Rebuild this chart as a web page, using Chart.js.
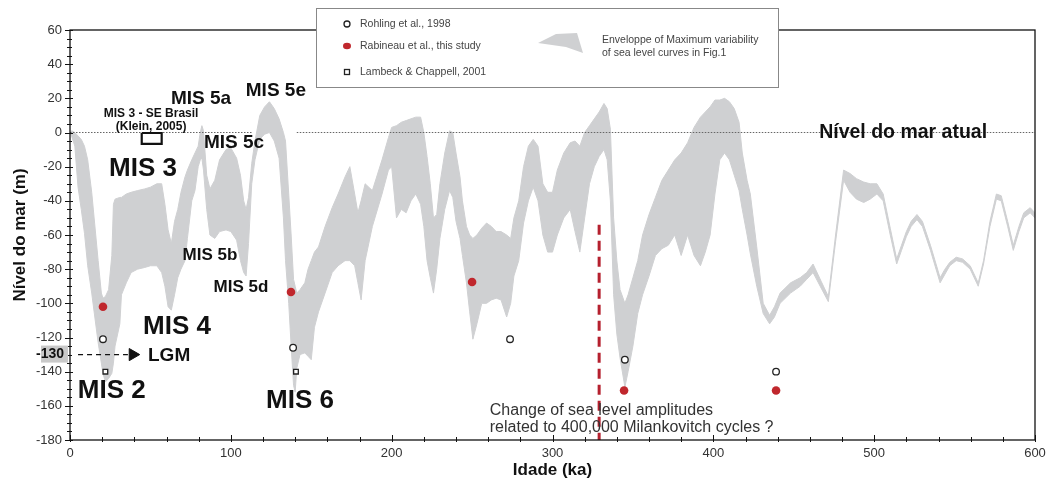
<!DOCTYPE html>
<html>
<head>
<meta charset="utf-8">
<script src="https://cdn.jsdelivr.net/npm/chart.js@4.4.1/dist/chart.umd.min.js"></script>
<style>
  html, body { margin: 0; padding: 0; background: #fff; }
  #wrap { width: 1058px; height: 484px; position: relative; }
</style>
</head>
<body>
<div id="wrap"><canvas id="nivelChart"></canvas></div>
<script>
// Envelope de variabilidade do nível do mar (idade em ka, nível em m)
const ages = [0, 1, 3, 5, 7, 9, 11, 13.5, 15, 17.5, 19.5, 20.5, 22, 24, 26, 27, 28, 31, 32, 35, 38, 42, 46.5, 50, 54, 57, 59, 61, 63, 65, 67, 69, 71.5, 73, 75.7, 77.7, 79.7, 81, 82, 83, 85, 87, 90, 93, 97, 100, 103.6, 106, 108, 109.5, 111, 113, 115, 118, 121, 124, 127, 130, 132.7, 134, 136, 137.5, 139, 140, 141, 143, 146, 148, 150, 152, 154.5, 158.6, 163, 166.7, 171, 174, 177, 179, 181, 183.5, 188, 194, 198, 200, 203, 206, 209, 212, 215, 218, 220, 222, 224, 226, 228, 230, 233, 236, 238, 240, 242.5, 244, 246.5, 248.5, 250.5, 253, 256, 259, 262, 265, 268, 271.5, 274, 276, 279, 282, 285, 288, 291, 294, 297, 300, 303, 307, 311, 314, 317, 320, 323, 326, 329, 332, 334, 336, 338, 340, 342, 345, 347, 350, 353, 356, 360, 364, 368, 372, 376, 380, 384, 388, 392, 395, 398, 401, 404, 407, 410, 413, 416, 418, 421, 423, 427, 431, 435, 438, 441.5, 448, 454, 458, 462, 467, 471.5, 476, 481, 485, 489, 493.5, 497.5, 501.7, 505.6, 510, 514, 517, 520, 523, 526.6, 530, 535, 541, 544, 547, 551, 555, 559.7, 564.7, 568, 572, 576, 579, 583, 586.5, 590, 593, 597, 600];
const upperLevel = [0, 1, 0, -2, -4, -8, -16, -35, -50, -75, -94, -97, -96, -92, -72, -42, -39, -38, -38, -36, -35, -34, -33, -32, -30, -30, -42, -57, -65, -52, -45, -35, -26, -22, -16, -12, -8, 0, 4, 1, -25, -33, -28, -16, -10, -9, -15, -25, -40, -45, -38, -18, -5, 10, 15, 18, 14, 8, 0, -5, -36, -60, -86, -90, -94, -92, -88, -80, -75, -70, -67, -55, -44, -36, -26, -20, -36, -47, -40, -30, -34, -16, -3, 3, 4, 6, 7, 8, 9, 9, 0, -14, -30, -50, -48, -30, -12, 1, 0, -12, -26, -40, -55, -60, -62, -60, -56, -53, -55, -58, -58, -60, -62, -50, -40, -20, -8, -4, -8, -30, -35, -35, -22, -12, -6, -5, -8, 0, 4, 8, 12, 17, 14, 2, -50, -75, -92, -100, -95, -85, -75, -60, -48, -38, -28, -22, -16, -12, -6, 3, 9, 12, 15, 19, 19, 20, 18, 14, 6, -12, -28, -36, -67, -100, -107, -102, -94, -88, -85, -82, -77, -87, -96, -60, -22, -24, -27, -29, -30, -30, -36, -56, -74, -66, -58, -52, -48, -52, -66, -85, -80, -76, -73, -74, -78, -88, -75, -52, -36, -37, -52, -66, -55, -47, -44, -47];
const lowerLevel = [0, -2, -8, -32, -45, -59, -78, -94, -105, -123, -135, -141, -146, -144, -141, -135, -125, -112, -95, -88, -82, -80, -79, -78, -78, -82, -90, -102, -104, -95, -85, -80, -75, -62, -40, -34, -20, -16, -15, -22, -45, -60, -62, -58, -57, -58, -63, -75, -82, -84, -65, -30, -16, -4, -1, 0, -5, -15, -50, -75, -100, -125, -148, -152, -138, -130, -129, -131, -133, -114, -105, -94, -82, -78, -75, -75, -78, -88, -98, -75, -55, -36, -22, -20, -50, -45, -47, -40, -36, -42, -55, -75, -85, -94, -80, -62, -45, -34, -38, -52, -62, -72, -88, -105, -121, -112, -100, -100, -98, -97, -98, -108, -100, -84, -75, -53, -40, -32, -40, -60, -70, -70, -60, -50, -45, -58, -70, -50, -30, -20, -14, -10, -16, -40, -95, -118, -132, -149, -140, -125, -106, -95, -84, -72, -68, -66, -60, -72, -60, -72, -78, -70, -60, -36, -16, -12, -16, -25, -34, -45, -60, -71, -90, -106, -112, -108, -100, -94, -90, -86, -82, -91, -99, -64, -28, -35, -39, -41, -39, -36, -40, -60, -77, -69, -61, -55, -51, -55, -69, -88, -83, -78, -75, -76, -80, -90, -77, -55, -39, -40, -55, -69, -58, -50, -47, -50];

// Pontos de referência
const rohlingAges = [20.5, 138.7, 273.6, 345, 439];
const rohlingLevels = [-121, -126, -121, -133, -140];
const rabineauAges = [20.5, 137.4, 250, 344.5, 439];
const rabineauLevels = [-102, -93.4, -87.5, -151, -151];
const lambeckAges = [22, 140.5];
const lambeckLevels = [-140, -140];

// Caixa MIS 3 (Klein, 2005)
const kleinAges = [44.6, 57, 57, 44.6, 44.6];
const kleinLevels = [-0.3, -0.3, -6.7, -6.7, -0.3];

// Linha de 400 ka (Milankovitch) e seta LGM
const milankAge = 329;
const milankLevels = [-54, -180];
const lgmLevel = -130;
const lgmArrowAges = [5, 36];
const lgmHeadAge = 39;

// Nível atual (com interrupção sob o pico MIS 5e)
const zeroAges = [0, 113, null, 141, 600];

const yTicks = [-180, -160, -140, -120, -100, -80, -60, -40, -20, 0, 20, 40, 60];
const xTicks = [0, 100, 200, 300, 400, 500, 600];

const toPts = (xs, ys) => xs.map((a, i) => ({ x: a, y: ys[i] }));

const FONT = '"Liberation Sans", Arial, Helvetica, sans-serif';
Chart.defaults.font.family = FONT;

const notes = [
  { t: "MIS 5a", x: 81.5, y: 20, f: "bold 19px" },
  { t: "MIS 5e", x: 128, y: 24.5, f: "bold 19px" },
  { t: "MIS 3 - SE Brasil", x: 50.4, y: 10.8, f: "bold 12px" },
  { t: "(Klein, 2005)", x: 50.4, y: 3.2, f: "bold 12px" },
  { t: "MIS 5c", x: 102, y: -6, f: "bold 19px" },
  { t: "MIS 3", x: 45.4, y: -21.4, f: "bold 26px" },
  { t: "MIS 5b", x: 87, y: -71.7, f: "bold 17px" },
  { t: "MIS 5d", x: 106.3, y: -90.5, f: "bold 17px" },
  { t: "MIS 4", x: 66.5, y: -114, f: "bold 26px" },
  { t: "MIS 2", x: 26, y: -151, f: "bold 26px" },
  { t: "MIS 6", x: 143, y: -157, f: "bold 26px" },
  { t: "Nível do mar atual", x: 518, y: 0, f: "bold 19.5px" },
];

const extras = {
  id: "extras",
  afterDraw(chart) {
    const { ctx, chartArea: a, scales } = chart;
    const x = scales.x, y = scales.y;
    ctx.save();

    // moldura
    ctx.strokeStyle = "#111";
    ctx.lineWidth = 1.3;
    ctx.strokeRect(a.left, a.top, a.right - a.left, a.bottom - a.top);

    // marcas do eixo Y
    ctx.lineWidth = 1;
    for (let v = -180; v <= 60; v += 5) {
      const py = Math.round(y.getPixelForValue(v)) + 0.5;
      const major = v % 20 === 0;
      ctx.beginPath();
      ctx.moveTo(a.left - (major ? 5 : 3), py);
      ctx.lineTo(a.left + (major ? 3 : 2), py);
      ctx.stroke();
    }
    // marcas do eixo X
    for (let v = 0; v <= 600; v += 20) {
      const px = Math.round(x.getPixelForValue(v)) + 0.5;
      const major = v % 100 === 0;
      ctx.beginPath();
      ctx.moveTo(px, a.bottom + 2);
      ctx.lineTo(px, a.bottom - (major ? 5 : 3));
      ctx.stroke();
    }

    // destaque -130
    const p130 = y.getPixelForValue(lgmLevel);
    ctx.fillStyle = "#c9c9c9";
    ctx.fillRect(41, p130 - 9, 27, 17);
    ctx.fillStyle = "#111";
    ctx.font = "bold 14px " + FONT;
    ctx.textAlign = "right";
    ctx.textBaseline = "middle";
    ctx.fillText("-130", 64, p130);

    // rótulos MIS
    ctx.textAlign = "center";
    notes.forEach((n) => {
      ctx.font = n.f + " " + FONT;
      ctx.fillText(n.t, x.getPixelForValue(n.x), y.getPixelForValue(n.y));
    });
    ctx.font = "bold 19px " + FONT;
    ctx.textAlign = "left";
    ctx.fillText("LGM", x.getPixelForValue(48.5), p130 + 1);

    // texto Milankovitch
    ctx.font = "16px " + FONT;
    ctx.fillStyle = "#333";
    ctx.fillText("Change of sea level amplitudes", x.getPixelForValue(261), y.getPixelForValue(-163));
    ctx.fillText("related to 400,000 Milankovitch cycles ?", x.getPixelForValue(261), y.getPixelForValue(-172.5));

    // legenda
    ctx.fillStyle = "#fff";
    ctx.fillRect(316, 8, 462, 79);
    ctx.strokeStyle = "#888";
    ctx.lineWidth = 1;
    ctx.strokeRect(316.5, 8.5, 462, 79);
    const ds = chart.data.datasets;
    ctx.font = "10.5px " + FONT;
    ctx.fillStyle = "#444";
    ctx.textAlign = "left";
    [[2, 24], [3, 46], [4, 72]].forEach(([i, py]) => {
      ctx.fillText(ds[i].label, 360, py);
    });
    ctx.lineWidth = 1.3;
    ctx.strokeStyle = "#222";
    ctx.beginPath();
    ctx.arc(347, 24, 3, 0, Math.PI * 2);
    ctx.stroke();
    ctx.fillStyle = ds[3].backgroundColor;
    ctx.beginPath();
    ctx.ellipse(347, 46, 4, 3.3, 0, 0, Math.PI * 2);
    ctx.fill();
    ctx.strokeRect(344.5, 69.5, 5, 5);
    ctx.fillStyle = ds[1].backgroundColor;
    ctx.beginPath();
    ctx.moveTo(538, 43);
    ctx.lineTo(556, 34);
    ctx.lineTo(577, 33);
    ctx.lineTo(583, 53);
    ctx.lineTo(566, 47);
    ctx.closePath();
    ctx.fill();
    ctx.fillStyle = "#444";
    ctx.fillText("Enveloppe of Maximum variability", 602, 40);
    ctx.fillText("of sea level curves in Fig.1", 602, 53);

    ctx.restore();
  },
};

const ctx = document.getElementById("nivelChart").getContext("2d");
const nivelChart = new Chart(ctx, {
  type: "scatter",
  data: {
    datasets: [
      {
        label: "upper",
        data: toPts(ages, upperLevel),
        showLine: true,
        borderColor: "#cfd0d2",
        borderWidth: 1,
        pointRadius: 0,
        backgroundColor: "#cfd0d2",
        order: 10,
      },
      {
        label: "Enveloppe of Maximum variability",
        data: toPts(ages, lowerLevel),
        showLine: true,
        borderColor: "#cfd0d2",
        borderWidth: 1,
        pointRadius: 0,
        backgroundColor: "#cfd0d2",
        fill: "-1",
        order: 9,
      },
      {
        label: "Rohling et al., 1998",
        data: toPts(rohlingAges, rohlingLevels),
        pointStyle: "circle",
        pointRadius: 3.3,
        backgroundColor: "#fff",
        borderColor: "#222",
        borderWidth: 1.3,
        order: 1,
      },
      {
        label: "Rabineau et al., this study",
        data: toPts(rabineauAges, rabineauLevels),
        pointStyle: "circle",
        pointRadius: 4.3,
        backgroundColor: "#c0272d",
        borderWidth: 0,
        order: 1,
      },
      {
        label: "Lambeck & Chappell, 2001",
        data: toPts(lambeckAges, lambeckLevels),
        pointStyle: "rect",
        pointRadius: 3.3,
        backgroundColor: "#fff",
        borderColor: "#222",
        borderWidth: 1.3,
        order: 1,
      },
      {
        label: "nível atual",
        data: zeroAges.map((a) => (a === null ? { x: null, y: null } : { x: a, y: 0 })),
        showLine: true,
        spanGaps: false,
        borderColor: "#666",
        borderWidth: 1.2,
        borderDash: [1.5, 1.5],
        pointRadius: 0,
        order: 5,
      },
      {
        label: "Klein 2005",
        data: toPts(kleinAges, kleinLevels),
        showLine: true,
        borderColor: "#111",
        borderWidth: 2.2,
        pointRadius: 0,
        order: 2,
      },
      {
        label: "400 ka",
        data: milankLevels.map((v) => ({ x: milankAge, y: v })),
        showLine: true,
        borderColor: "#b5202e",
        borderWidth: 3,
        borderDash: [10, 6],
        pointRadius: 0,
        order: 2,
      },
      {
        label: "LGM",
        data: lgmArrowAges.map((a) => ({ x: a, y: lgmLevel })),
        showLine: true,
        borderColor: "#111",
        borderWidth: 1.4,
        borderDash: [5, 4],
        pointRadius: 0,
        order: 2,
      },
      {
        label: "LGM seta",
        data: [{ x: lgmHeadAge, y: lgmLevel }],
        pointStyle: "triangle",
        rotation: 90,
        pointRadius: 7,
        backgroundColor: "#111",
        borderColor: "#111",
        order: 2,
      },
    ],
  },
  options: {
    responsive: true,
    maintainAspectRatio: false,
    animation: false,
    layout: { padding: { top: 30, right: 23, left: 0, bottom: 0 } },
    plugins: {
      legend: { display: false },
      tooltip: { enabled: false },
    },
    scales: {
      x: {
        type: "linear",
        min: 0,
        max: 600,
        afterFit: (s) => { s.height = 44; },
        afterBuildTicks: (s) => { s.ticks = xTicks.map((v) => ({ value: v })); },
        grid: { display: false, drawTicks: false },
        border: { display: false },
        ticks: { color: "#333", font: { size: 13 }, padding: 6 },
        title: {
          display: true,
          text: "Idade (ka)",
          color: "#111",
          font: { size: 17, weight: "bold" },
          padding: { top: 0, bottom: 3 },
        },
      },
      y: {
        type: "linear",
        min: -180,
        max: 60,
        afterFit: (s) => { s.width = 70; },
        afterBuildTicks: (s) => { s.ticks = yTicks.map((v) => ({ value: v })); },
        grid: { display: false, drawTicks: false },
        border: { display: false },
        ticks: { color: "#333", font: { size: 13 }, padding: 8 },
        title: {
          display: true,
          text: "Nível do mar (m)",
          color: "#111",
          font: { size: 17, weight: "bold" },
          padding: { top: 10, bottom: 0 },
        },
      },
    },
  },
  plugins: [extras],
});
</script>
</body>
</html>
